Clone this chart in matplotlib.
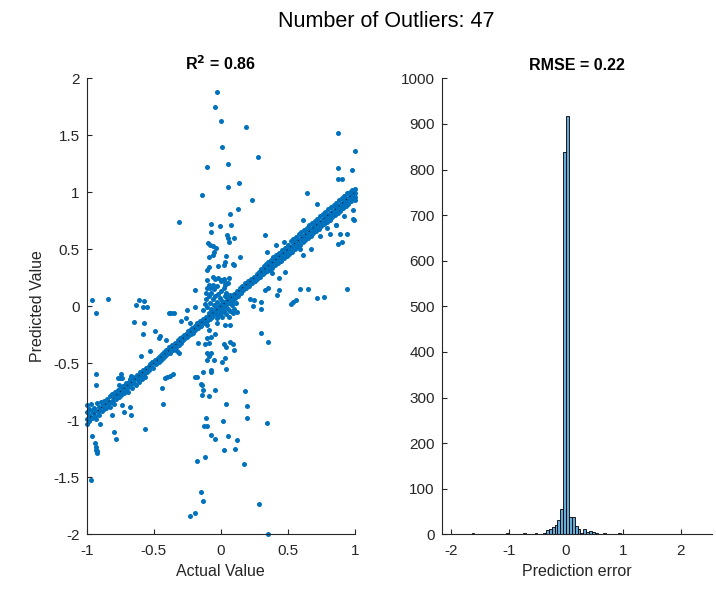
import matplotlib
matplotlib.use("Agg")
import matplotlib.pyplot as plt

plt.rcParams['font.family'] = ['Liberation Sans', 'DejaVu Sans']
plt.rcParams['axes.unicode_minus'] = False

# ---------------- data ----------------
suptitle_text = "Number of Outliers: 47"
r2_title = "R$^{\\mathbf{2}}$ = 0.86"
rmse_title = "RMSE = 0.22"

# points lying along the identity band: (actual, predicted)
band_points = [
    (-1.000, -0.87), (-0.997, -0.93), (-0.995, -0.99), (-1.000, -1.03),
    (-0.985, -0.90), (-0.980, -0.95), (-0.975, -0.97), (-0.982, -1.01),
    (-0.965, -0.86), (-0.960, -0.92), (-0.957, -0.98), (-0.950, -0.94),
    (-0.945, -0.89), (-0.940, -0.96), (-0.935, -0.91), (-0.930, -0.99),
    (-0.925, -0.85), (-0.918, -0.93), (-0.912, -0.88), (-0.905, -0.95),
    (-0.900, -0.90), (-0.893, -0.84), (-0.887, -0.92), (-0.880, -0.87),
    (-0.874, -0.83), (-0.868, -0.90), (-0.862, -0.85), (-0.855, -0.89),
    (-0.850, -0.81), (-0.843, -0.86), (-0.838, -0.83), (-0.830, -0.88),
    (-0.825, -0.79), (-0.818, -0.84), (-0.812, -0.77), (-0.805, -0.82),
    (-0.800, -0.86), (-0.793, -0.78), (-0.786, -0.75), (-0.780, -0.81),
    (-0.774, -0.77), (-0.768, -0.73), (-0.762, -0.80), (-0.755, -0.76),
    (-0.748, -0.71), (-0.742, -0.78), (-0.736, -0.74), (-0.730, -0.70),
    (-0.724, -0.76), (-0.718, -0.69), (-0.712, -0.73), (-0.706, -0.67),
    (-0.700, -0.72), (-0.694, -0.75), (-0.688, -0.66), (-0.682, -0.70),
    (-0.676, -0.64), (-0.670, -0.68), (-0.664, -0.72), (-0.658, -0.65),
    (-0.652, -0.62), (-0.646, -0.67), (-0.640, -0.63), (-0.634, -0.69),
    (-0.628, -0.60), (-0.622, -0.64), (-0.616, -0.61), (-0.610, -0.66),
    (-0.604, -0.58), (-0.598, -0.62), (-0.592, -0.59), (-0.586, -0.64),
    (-0.580, -0.56), (-0.574, -0.60), (-0.568, -0.57), (-0.562, -0.62),
    (-0.556, -0.54), (-0.550, -0.58), (-0.544, -0.55), (-0.538, -0.52),
    (-0.532, -0.56), (-0.525, -0.51), (-0.518, -0.53),
    (-0.511, -0.49), (-0.504, -0.54), (-0.497, -0.50),
    (-0.490, -0.47), (-0.483, -0.51), (-0.476, -0.48),
    (-0.469, -0.45), (-0.462, -0.49), (-0.455, -0.44),
    (-0.448, -0.47), (-0.441, -0.42), (-0.434, -0.45),
    (-0.427, -0.40), (-0.420, -0.44), (-0.413, -0.41),
    (-0.406, -0.38), (-0.399, -0.42), (-0.392, -0.39),
    (-0.385, -0.36), (-0.378, -0.41), (-0.371, -0.37),
    (-0.364, -0.34), (-0.357, -0.38), (-0.350, -0.35),
    (-0.343, -0.32), (-0.336, -0.36), (-0.329, -0.33),
    (-0.322, -0.30), (-0.315, -0.34), (-0.308, -0.31),
    (-0.301, -0.28), (-0.294, -0.32), (-0.287, -0.27),
    (-0.280, -0.30), (-0.273, -0.25), (-0.266, -0.28),
    (-0.259, -0.24), (-0.252, -0.27), (-0.245, -0.22),
    (-0.238, -0.25), (-0.231, -0.21), (-0.224, -0.24),
    (-0.217, -0.19), (-0.210, -0.23), (-0.203, -0.20),
    (-0.196, -0.17), (-0.189, -0.21), (-0.182, -0.18),
    (-0.175, -0.15), (-0.168, -0.19), (-0.161, -0.16),
    (-0.154, -0.13), (-0.147, -0.17), (-0.140, -0.14),
    (-0.133, -0.11), (-0.126, -0.15), (-0.119, -0.12),
    (-0.112, -0.09), (-0.105, -0.13), (-0.098, -0.10),
    (-0.091, -0.07), (-0.084, -0.11), (-0.077, -0.08),
    (-0.070, -0.05), (-0.063, -0.09), (-0.056, -0.06),
    (-0.049, -0.03), (-0.042, -0.07), (-0.035, -0.04),
    (-0.028, -0.01), (-0.021, -0.05), (-0.014, -0.02),
    (-0.007, 0.01), (0.000, -0.03), (0.007, 0.00),
    (0.014, 0.03), (0.021, -0.01), (0.028, 0.02),
    (0.035, 0.05), (0.042, 0.01), (0.049, 0.04),
    (0.056, 0.07), (0.063, 0.03), (0.070, 0.06),
    (0.077, 0.09), (0.084, 0.05), (0.091, 0.08),
    (0.098, 0.11), (0.105, 0.07), (0.112, 0.10),
    (0.119, 0.13), (0.126, 0.09), (0.133, 0.12),
    (0.140, 0.16), (0.147, 0.12), (0.154, 0.15),
    (0.161, 0.18), (0.168, 0.14), (0.175, 0.17),
    (0.182, 0.20), (0.189, 0.16), (0.196, 0.19),
    (0.203, 0.22), (0.210, 0.18), (0.217, 0.21),
    (0.224, 0.24), (0.231, 0.20), (0.238, 0.23),
    (0.245, 0.26), (0.252, 0.22), (0.259, 0.25),
    (0.266, 0.28), (0.273, 0.24), (0.280, 0.27),
    (0.287, 0.30), (0.294, 0.26), (0.301, 0.33), (0.300, 0.29),
    (0.308, 0.31), (0.315, 0.28), (0.322, 0.35), (0.322, 0.32),
    (0.329, 0.30), (0.336, 0.37), (0.343, 0.33), (0.343, 0.31),
    (0.350, 0.39), (0.357, 0.35), (0.364, 0.32), (0.364, 0.37),
    (0.371, 0.41), (0.378, 0.36), (0.385, 0.34), (0.385, 0.39),
    (0.392, 0.43), (0.399, 0.38), (0.406, 0.36), (0.406, 0.41),
    (0.413, 0.45), (0.420, 0.40), (0.427, 0.38), (0.427, 0.43),
    (0.434, 0.47), (0.441, 0.42), (0.448, 0.40), (0.448, 0.45),
    (0.455, 0.49), (0.462, 0.44), (0.469, 0.42), (0.469, 0.47),
    (0.476, 0.51), (0.483, 0.46), (0.490, 0.44), (0.490, 0.49),
    (0.500, 0.54), (0.505, 0.49), (0.510, 0.46), (0.515, 0.52),
    (0.520, 0.57), (0.525, 0.51), (0.530, 0.48), (0.535, 0.54),
    (0.540, 0.59), (0.545, 0.53), (0.550, 0.50), (0.555, 0.56),
    (0.560, 0.61), (0.565, 0.55), (0.570, 0.52), (0.575, 0.58),
    (0.580, 0.63), (0.585, 0.57), (0.590, 0.54), (0.595, 0.60),
    (0.600, 0.65), (0.605, 0.59), (0.610, 0.56), (0.615, 0.62),
    (0.620, 0.67), (0.625, 0.61), (0.630, 0.58), (0.635, 0.64),
    (0.640, 0.69), (0.645, 0.63), (0.650, 0.60), (0.655, 0.66),
    (0.660, 0.71), (0.665, 0.65), (0.670, 0.62), (0.675, 0.68),
    (0.680, 0.73), (0.685, 0.67), (0.690, 0.64), (0.695, 0.70),
    (0.700, 0.75), (0.705, 0.69), (0.710, 0.66), (0.715, 0.72),
    (0.720, 0.77), (0.725, 0.71), (0.730, 0.68), (0.735, 0.74),
    (0.740, 0.79), (0.745, 0.73), (0.750, 0.70), (0.755, 0.76),
    (0.760, 0.81), (0.765, 0.75), (0.770, 0.72), (0.775, 0.78),
    (0.780, 0.83), (0.785, 0.77), (0.790, 0.74), (0.795, 0.80),
    (0.800, 0.85), (0.805, 0.79), (0.810, 0.76), (0.815, 0.82),
    (0.820, 0.87), (0.825, 0.81), (0.830, 0.78), (0.835, 0.84),
    (0.840, 0.89), (0.845, 0.83), (0.850, 0.80), (0.855, 0.86),
    (0.860, 0.91), (0.865, 0.85), (0.870, 0.82), (0.875, 0.88),
    (0.880, 0.93), (0.885, 0.87), (0.890, 0.84), (0.895, 0.90),
    (0.900, 0.95), (0.905, 0.89), (0.910, 0.86), (0.915, 0.92),
    (0.920, 0.97), (0.925, 0.91), (0.930, 0.88), (0.935, 0.94),
    (0.940, 0.99), (0.945, 0.93), (0.950, 0.90), (0.955, 0.96),
    (0.960, 1.00), (0.965, 0.95), (0.970, 0.92), (0.975, 0.98),
    (0.980, 1.02), (0.985, 0.97), (0.990, 0.94), (0.995, 1.00),
    (1.000, 1.03), (1.000, 0.99), (1.000, 0.96), (0.998, 0.93),
]

# dense cloud around the origin
center_points = [
    (-0.12, 0.02), (-0.11, 0.06), (-0.10, -0.01), (-0.09, 0.09), (-0.08, 0.03),
    (-0.07, 0.12), (-0.07, -0.02), (-0.06, 0.06), (-0.05, 0.15), (-0.05, 0.01),
    (-0.04, 0.09), (-0.03, 0.04), (-0.03, 0.18), (-0.02, 0.11), (-0.01, 0.07),
    (0.00, 0.13), (0.00, -0.06), (0.01, 0.05), (0.02, 0.16), (0.02, -0.04),
    (0.03, 0.09), (0.04, -0.07), (0.04, 0.12), (0.05, -0.02), (0.06, 0.04),
    (0.06, -0.09), (0.07, 0.10), (0.07, -0.04), (0.08, 0.01), (0.09, -0.06),
    (0.09, 0.06), (0.10, -0.02), (0.11, 0.03), (-0.09, -0.06), (-0.11, 0.12),
    (0.03, 0.19), (-0.06, 0.19), (0.05, 0.20), (-0.08, 0.16), (0.01, -0.09),
    (-0.13, -0.03), (0.12, -0.05), (0.00, 0.22), (-0.02, -0.08),
]

# points far from the identity band
outlier_points = [
    (-0.03, 1.88), (-0.04, 1.75), (0.00, 1.625), (0.19, 1.57), (0.01, 1.40),
    (0.275, 1.31), (-0.10, 1.22), (0.056, 1.25), (-0.14, 0.976), (0.051, 1.05),
    (0.138, 1.085), (0.234, 0.93), (0.13, 0.856), (0.068, 0.807), (-0.31, 0.74),
    (-0.073, 0.72), (-0.006, 0.70), (0.076, 0.71),
    (0.871, 1.518), (1.0, 1.365), (0.871, 1.21), (0.98, 1.195), (0.871, 1.114),
    (0.90, 1.114), (0.64, 0.99), (0.72, 0.895), (0.985, 0.845), (0.92, 0.79),
    (0.983, 0.763), (0.858, 0.71), (0.79, 0.69), (0.61, 0.757),
    (-0.073, 0.655), (0.044, 0.625), (0.05, 0.597), (0.058, 0.567), (0.10, 0.597),
    (-0.098, 0.553), (-0.08, 0.54), (-0.058, 0.53), (-0.037, 0.515), (-0.05, 0.48),
    (-0.058, 0.45), (-0.09, 0.43), (0.038, 0.44), (0.143, 0.43), (0.03, 0.39),
    (0.02, 0.36), (0.088, 0.375), (0.10, 0.36), (-0.09, 0.345), (-0.10, 0.32),
    (-0.02, 0.35),
    (-0.06, 0.26), (-0.04, 0.24), (-0.02, 0.25), (0.0, 0.23), (0.02, 0.24),
    (0.03, 0.21), (0.06, 0.25), (-0.10, 0.23), (-0.09, 0.19), (-0.10, 0.16),
    (-0.19, 0.143),
    (-0.963, 0.055), (-0.933, -0.06), (-0.84, 0.064), (-0.632, 0.011), (-0.61, 0.055),
    (-0.575, 0.045), (-0.58, -0.01), (-0.55, -0.01), (-0.65, -0.14), (-0.57, -0.15),
    (-0.58, -0.24), (-0.49, -0.22), (-0.46, -0.28), (-0.39, -0.06), (-0.37, -0.06),
    (-0.35, -0.06), (-0.30, -0.125), (-0.25, -0.03), (-0.19, -0.01), (-0.595, -0.44),
    (-0.53, -0.39), (-0.18, -0.62), (-0.33, -0.39), (-0.31, -0.41), (-0.26, -0.10),
    (-0.23, -0.15), (-0.45, -0.26), (-0.41, -0.30),
    (-0.10, -0.16), (-0.09, -0.21), (-0.10, -0.28), (-0.07, -0.27), (-0.09, -0.32),
    (-0.03, -0.10), (-0.03, -0.15), (-0.04, -0.24), (0.03, -0.16), (0.07, -0.16),
    (-0.17, -0.32), (-0.12, -0.33), (-0.10, -0.41), (-0.09, -0.44), (-0.10, -0.47),
    (-0.07, -0.41), (-0.05, -0.47), (0.025, -0.33), (0.04, -0.36), (0.07, -0.31),
    (0.09, -0.33), (0.10, -0.38), (0.03, -0.45), (0.035, -0.55), (0.01, -0.49),
    (-0.07, -0.56), (-0.13, -0.58),
    (0.30, -0.23), (0.354, -0.31), (0.22, 0.06), (0.25, 0.055), (0.30, 0.04),
    (0.24, 0.0), (0.30, -0.02), (0.33, 0.625), (0.35, 0.16), (0.33, 0.14),
    (0.42, 0.10), (0.43, 0.14), (0.38, 0.29), (0.43, 0.25), (0.48, 0.30),
    (0.52, 0.02), (0.54, 0.04), (0.56, 0.055), (0.59, 0.15), (0.65, 0.15),
    (0.72, 0.07), (0.77, 0.085), (0.94, 0.15), (0.59, 0.5), (0.61, 0.45),
    (0.67, 0.5), (0.74, 0.62), (0.81, 0.635), (0.87, 0.55), (0.89, 0.63),
    (0.94, 0.63), (0.90, 0.56), (0.86, 0.71), (0.99, 0.76), (0.41, 0.54),
    (0.47, 0.56), (0.342, 0.48),
    (-0.93, -0.59), (-0.93, -0.69), (-0.745, -0.59), (-0.74, -0.63), (-0.67, -0.61),
    (-0.77, -0.63), (-0.75, -0.63), (-0.76, -0.69), (-0.81, -0.95), (-0.74, -0.87),
    (-0.72, -0.93), (-0.68, -0.88), (-0.67, -0.95), (-0.90, -1.03), (-0.96, -1.135),
    (-0.94, -1.20), (-0.93, -1.23), (-0.92, -1.27), (-0.92, -1.29), (-0.93, -1.26),
    (-0.80, -1.10), (-0.785, -1.165), (-0.563, -1.08), (-0.968, -1.52), (-0.44, -0.72),
    (-0.42, -0.63), (-0.40, -0.62), (-0.38, -0.61), (-0.36, -0.59), (-0.43, -0.86),
    (-0.19, -0.62), (-0.15, -0.68), (-0.14, -0.69), (-0.13, -0.73), (-0.14, -0.78),
    (-0.07, -0.58), (-0.044, -0.73), (-0.09, -0.79), (0.036, -0.86), (0.18, -0.74),
    (0.193, -0.875), (0.193, -0.98), (0.342, -1.02), (0.016, -1.01), (-0.11, -0.98),
    (-0.123, -1.05), (-0.10, -1.05), (-0.073, -1.13), (-0.044, -1.165), (0.05, -1.14),
    (0.118, -1.17), (0.105, -1.25), (0.026, -1.26), (-0.118, -1.32), (-0.18, -1.355),
    (0.173, -1.38), (-0.15, -1.63), (-0.13, -1.705), (-0.19, -1.816), (-0.23, -1.84),
    (0.282, -1.73), (0.354, -2.0),
]

identity_line = [-1, 1]

# histogram of prediction error (bin left edges and counts)
bin_width = 0.05
hist_left = [-2.00, -1.65, -1.05, -0.75, -0.70, -0.60, -0.55, -0.50, -0.45, -0.40,
             -0.35, -0.30, -0.25, -0.20, -0.15, -0.10, -0.05, 0.00, 0.05, 0.10,
             0.15, 0.20, 0.25, 0.30, 0.35, 0.40, 0.45, 0.50, 0.55, 0.65,
             0.70, 0.85, 0.90, 1.10, 1.15, 1.95]
hist_counts = [1, 2, 2, 3, 1, 1, 3, 1, 1, 2,
               10, 11, 16, 20, 31, 56, 838, 918, 39, 38,
               18, 12, 2, 11, 5, 7, 5, 3, 1, 2,
               1, 1, 2, 1, 1, 1]

scatter_xticks = [-1, -0.5, 0, 0.5, 1]
scatter_yticks = [-2, -1.5, -1, -0.5, 0, 0.5, 1, 1.5, 2]
hist_xticks = [-2, -1, 0, 1, 2]
hist_yticks = [0, 100, 200, 300, 400, 500, 600, 700, 800, 900, 1000]

# ---------------- style ----------------
blue = '#0072BD'
axcol = '#262626'
W, H = 716, 589

fig = plt.figure(figsize=(W / 100, H / 100), dpi=100)


def px_axes(x0, y0, x1, y1):
    return fig.add_axes([x0 / W, 1 - y1 / H, (x1 - x0) / W, (y1 - y0) / H])


def style(ax):
    for s in ('top', 'right'):
        ax.spines[s].set_visible(False)
    for s in ('left', 'bottom'):
        ax.spines[s].set_color(axcol)
        ax.spines[s].set_linewidth(0.8)
    ax.tick_params(direction='in', length=3.5, width=0.8, colors=axcol,
                   labelsize=11, pad=5)
    ax.tick_params(axis='x', pad=7)


def fmt(v):
    return ('%g' % v)


ax1 = px_axes(86.7, 78.3, 355.0, 534.3)
ax2 = px_axes(441.7, 78.3, 711.7, 534.3)

allpts = band_points + center_points + outlier_points
xs = [p[0] for p in allpts]
ys = [p[1] for p in allpts]
ax1.scatter(xs, ys, s=13, color=blue, linewidths=0, zorder=2, clip_on=False)
ax1.plot(identity_line, identity_line, color='black', lw=0.7,
         ls=(0, (1, 4)), zorder=3)
ax1.set_xlim(-1, 1)
ax1.set_ylim(-2, 2)
ax1.set_xticks(scatter_xticks)
ax1.set_xticklabels([fmt(v) for v in scatter_xticks])
ax1.set_yticks(scatter_yticks)
ax1.set_yticklabels([fmt(v) for v in scatter_yticks])
style(ax1)
ax1.set_xlabel('Actual Value', fontsize=11.5, color=axcol, labelpad=4)
ax1.set_ylabel('Predicted Value', fontsize=11.5, color=axcol, labelpad=6)
ax1.set_title(r2_title, fontsize=11.5, fontweight='bold', pad=6)

ax2.bar(hist_left, hist_counts, width=bin_width, align='edge',
        color='#66AAD7', edgecolor='black', linewidth=0.6, zorder=2)
ax2.set_xlim(-2.17, 2.54)
ax2.set_ylim(0, 1000)
ax2.set_xticks(hist_xticks)
ax2.set_xticklabels([fmt(v) for v in hist_xticks])
ax2.set_yticks(hist_yticks)
style(ax2)
ax2.set_xlabel('Prediction error', fontsize=11.5, color=axcol, labelpad=4)
ax2.set_title(rmse_title, fontsize=11.5, fontweight='bold', pad=6)

fig.text(0.539, 0.964, suptitle_text, fontsize=15.5, ha='center', va='center',
         color='black')

fig.savefig('out.png', dpi=100)
